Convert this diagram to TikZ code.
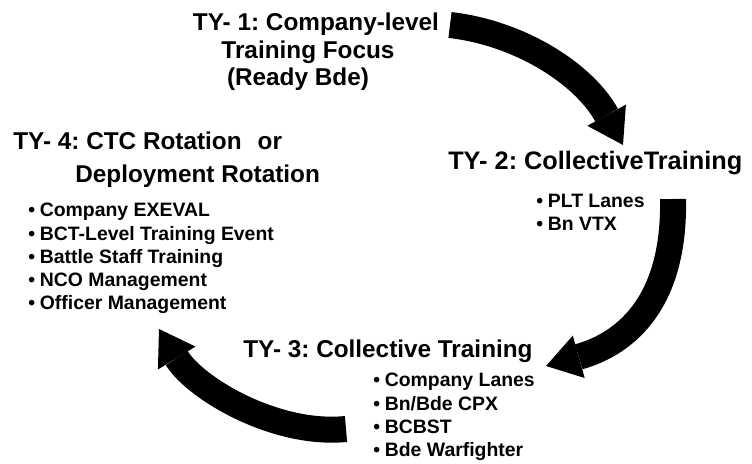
\documentclass[tikz,border=0pt]{standalone}
\usepackage{fontspec}
\setmainfont{Liberation Sans}
\usetikzlibrary{arrows.meta,positioning}
\newcommand{\itm}{\textbullet\hspace{0.12cm}}
\tikzset{
    titletext/.style={inner sep=0pt, align=center,
        font=\frenchspacing\fontsize{17.3}{19.5}\selectfont\bfseries},
    itemlist/.style={inner sep=0pt, align=left, anchor=north west,
        font=\fontsize{13.8}{16.5}\selectfont\bfseries},
    cyclearrow/.style={line width=0.65cm,
        -{Triangle[length=0.85cm, width=1.1cm, line width=0pt]}}
}

\begin{document}
\begin{tikzpicture}[x=0.025cm, y=-0.025cm]
\useasboundingbox (0,0) rectangle (752,464);
% training year titles
\node[titletext, anchor=north] (ty1) at (308,13) {\hspace*{0.4cm}TY- 1: Company-level\\Training Focus\\(Ready Bde)\hspace*{0.5cm}};
\node[titletext, anchor=north west, font=\frenchspacing\fontsize{18}{20}\selectfont\bfseries] (ty2) at (448,151) {TY- 2: CollectiveTraining};
\node[titletext, anchor=north west] (ty3) at (243,340) {TY- 3: Collective Training};
\node[titletext, anchor=north west, align=left] (ty4) at (13,132) {TY- 4: CTC Rotation\hspace{0.4cm}or\\[3.5pt]\hspace*{1.55cm}Deployment Rotation};
% events
\node[itemlist] (ty2list) at (536,194) {\itm PLT Lanes\\\itm Bn VTX};
\node[itemlist] (ty3list) at (373,373) {\itm Company Lanes\\\itm Bn/Bde CPX\\\itm BCBST\\\itm Bde Warfighter};
\node[itemlist] (ty4list) at (28,203) {\itm Company EXEVAL\\\itm BCT-Level Training Event\\\itm Battle Staff Training\\\itm NCO Management\\\itm Officer Management};
% cycle arrows
\coordinate (a1s) at (450,25);
\coordinate (a1e) at (623,145);
\coordinate (a2s) at (673,199);
\coordinate (a2e) at (546,366);
\coordinate (a3s) at (346,429);
\coordinate (a3e) at (159,329);
\draw[cyclearrow] (a1s) .. controls (520,33) and (584,74) .. (a1e);
\draw[cyclearrow] (a2s) .. controls (675,300) and (628,343) .. (a2e);
\draw[cyclearrow] (a3s) .. controls (275,436) and (195,388) .. (a3e);
\end{tikzpicture}
\end{document}
